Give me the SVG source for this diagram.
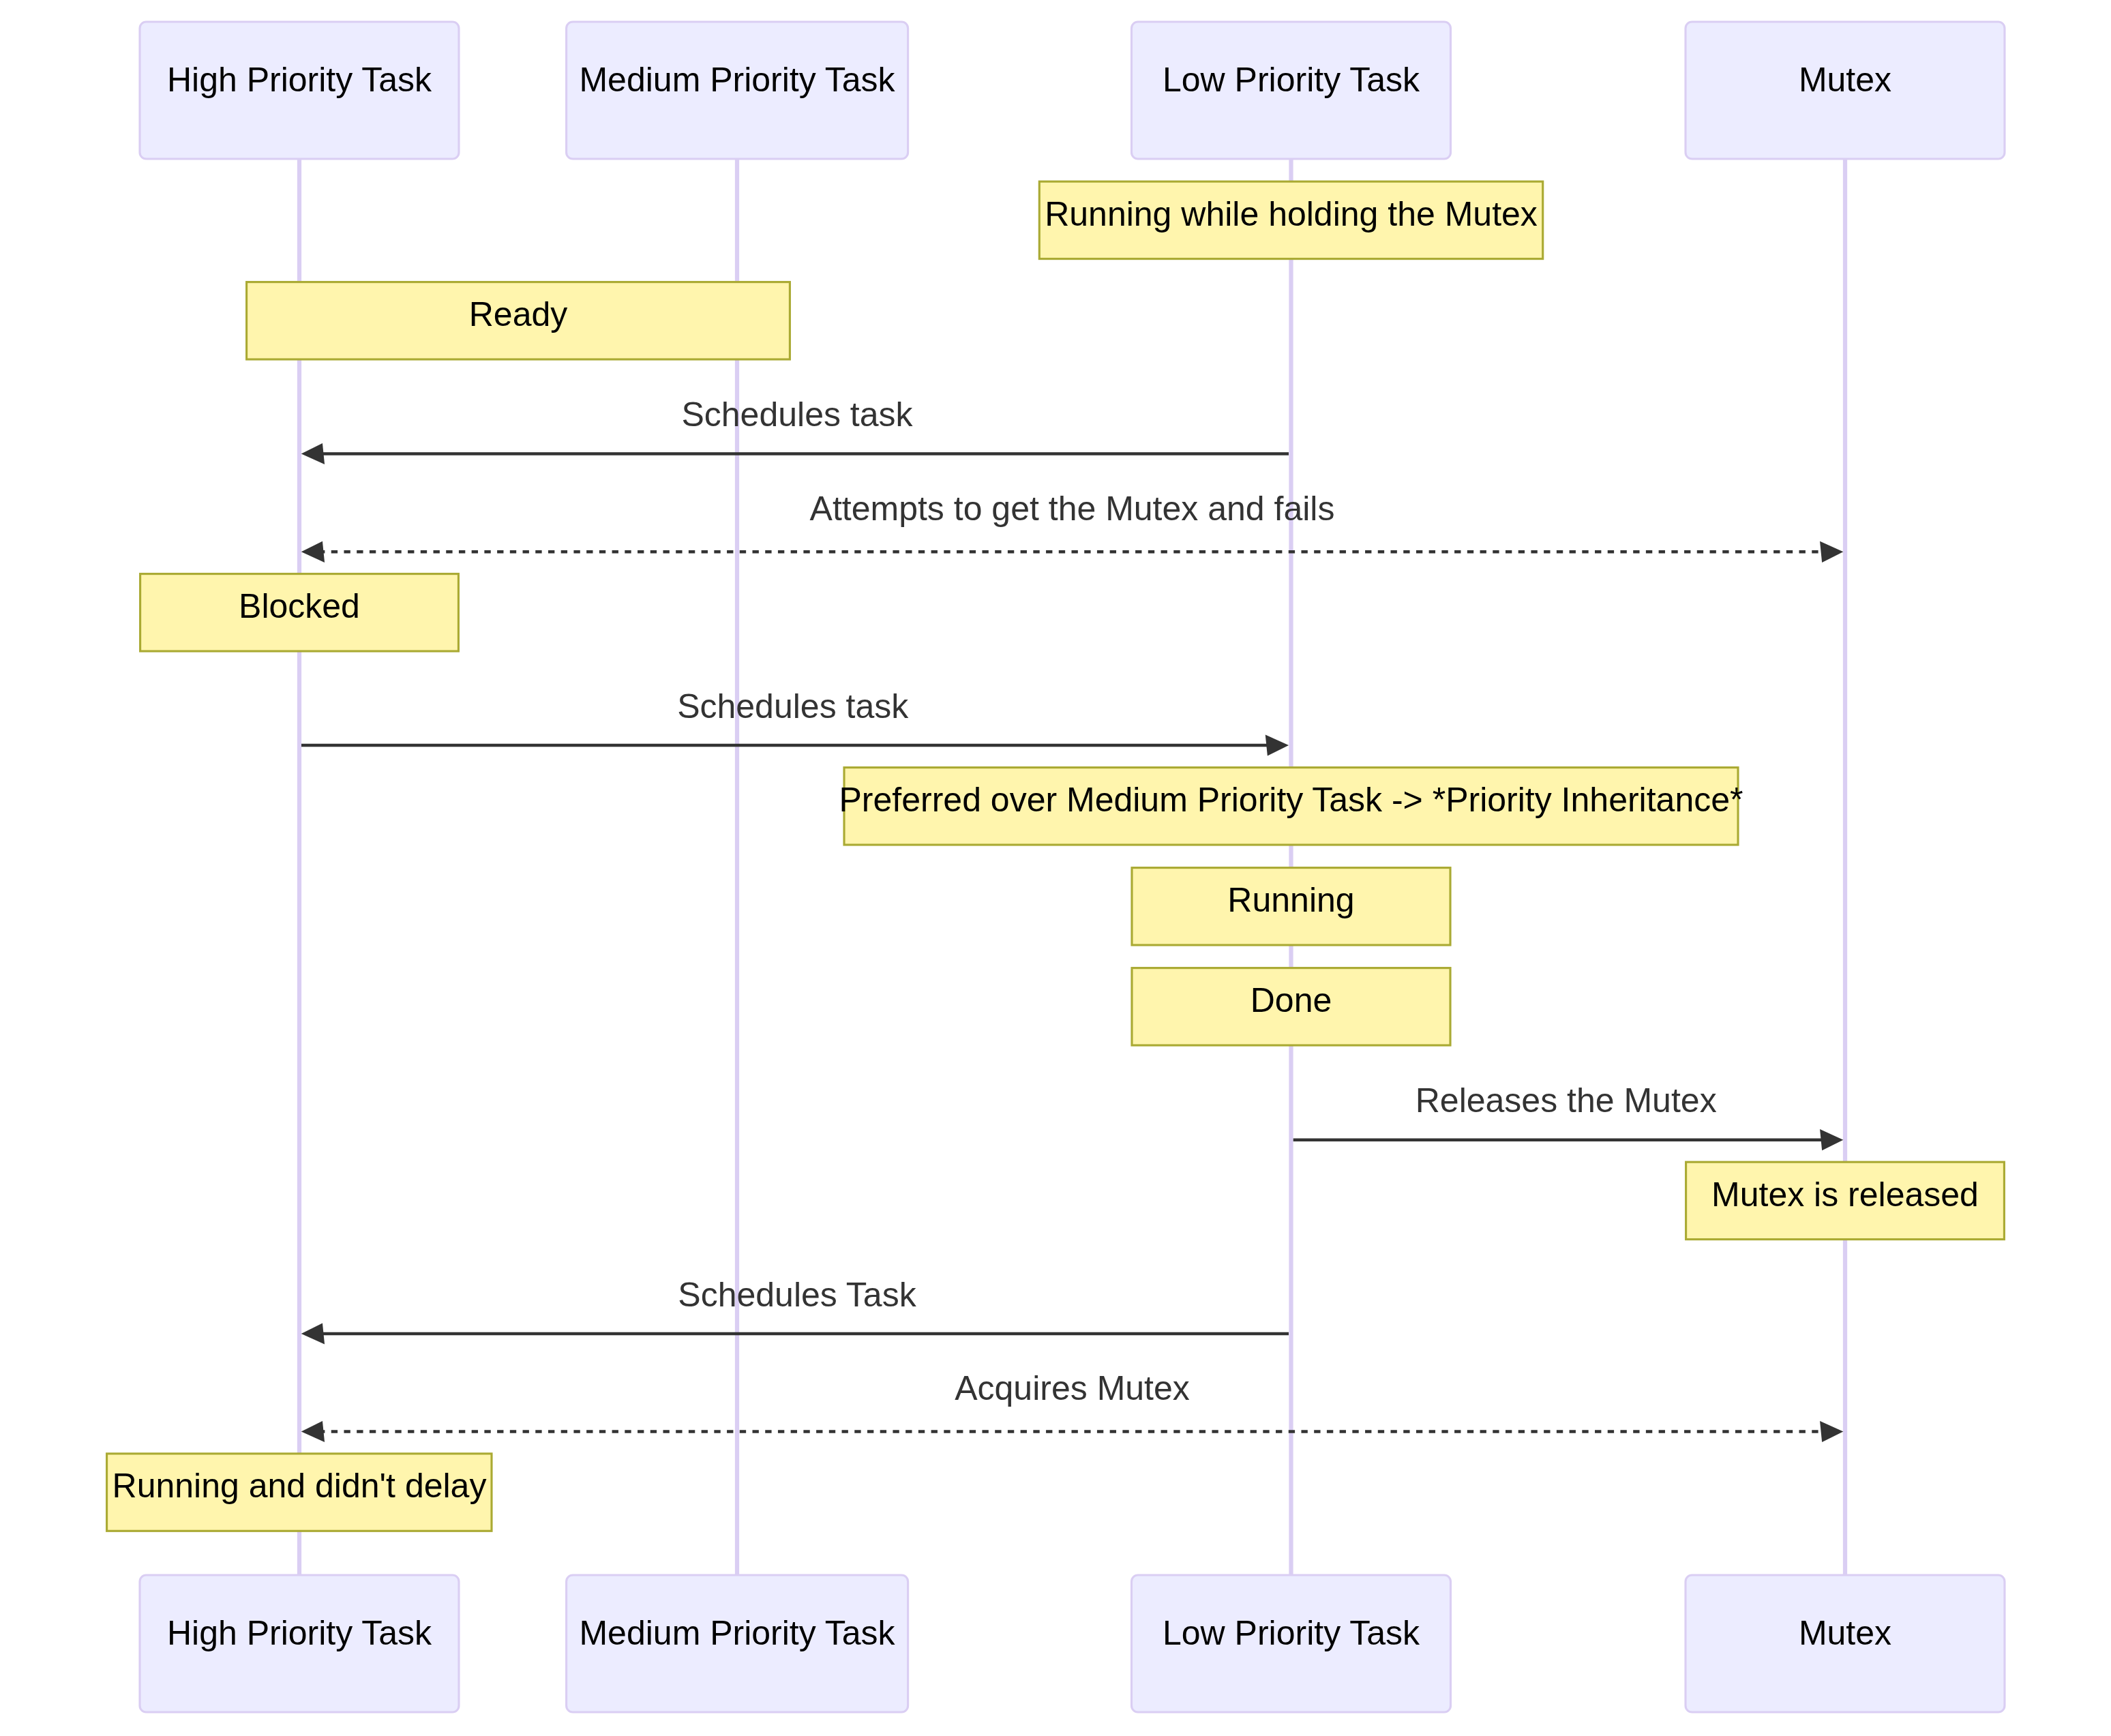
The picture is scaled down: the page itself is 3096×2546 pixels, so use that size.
<svg xmlns="http://www.w3.org/2000/svg" width="3096" height="2546" viewBox="0 0 3096 2546">
<style>
.bg{fill:#ffffff}
.actor rect{fill:#ECECFF;stroke:hsl(259.6,59.77%,87.9%);stroke-width:3.12}
.actor text{font-family:"Liberation Sans",Arial,sans-serif;font-size:50px;fill:#000;text-anchor:middle}
.lifeline{stroke:hsl(259.6,59.77%,87.9%);stroke-width:6.24}
.note rect{fill:#fff5ad;stroke:#aaaa33;stroke-width:3.12}
.note text{font-family:"Liberation Sans",Arial,sans-serif;font-size:50px;fill:#000;text-anchor:middle}
.msg{stroke:#333;stroke-width:4.5;fill:none}
.dotted{stroke-dasharray:9.36 9.36}
.msgtext{font-family:"Liberation Sans",Arial,sans-serif;font-size:50px;fill:#333;text-anchor:middle}
</style>
<defs>
<marker id="arrowhead" markerUnits="userSpaceOnUse" markerWidth="37.44" markerHeight="37.44" viewBox="0 0 12 12" refX="7.9" refY="5" orient="auto-start-reverse" overflow="visible">
<path d="M -1 0 L 10 5 L 0 10 z" fill="#333"/>
</marker>
</defs>
<rect class="bg" x="0" y="0" width="3096" height="2546"/>
<g id="lifelines">
<line class="lifeline" x1="439" y1="234" x2="439" y2="2310"/>
<line class="lifeline" x1="1081" y1="234" x2="1081" y2="2310"/>
<line class="lifeline" x1="1893.5" y1="234" x2="1893.5" y2="2310"/>
<line class="lifeline" x1="2706" y1="234" x2="2706" y2="2310"/>
</g>
<g id="actor-high-top" class="actor"><rect x="205" y="32" width="468" height="201" rx="9.4"/><text x="439" y="133.5">High Priority Task</text></g>
<g id="actor-medium-top" class="actor"><rect x="830.6" y="32" width="501" height="201" rx="9.4"/><text x="1081" y="133.5">Medium Priority Task</text></g>
<g id="actor-low-top" class="actor"><rect x="1659.5" y="32" width="468" height="201" rx="9.4"/><text x="1893.5" y="133.5">Low Priority Task</text></g>
<g id="actor-mutex-top" class="actor"><rect x="2472" y="32" width="468" height="201" rx="9.4"/><text x="2706" y="133.5">Mutex</text></g>
<g id="actor-high-bottom" class="actor"><rect x="205" y="2310" width="468" height="201" rx="9.4"/><text x="439" y="2411.5">High Priority Task</text></g>
<g id="actor-medium-bottom" class="actor"><rect x="830.6" y="2310" width="501" height="201" rx="9.4"/><text x="1081" y="2411.5">Medium Priority Task</text></g>
<g id="actor-low-bottom" class="actor"><rect x="1659.5" y="2310" width="468" height="201" rx="9.4"/><text x="1893.5" y="2411.5">Low Priority Task</text></g>
<g id="actor-mutex-bottom" class="actor"><rect x="2472" y="2310" width="468" height="201" rx="9.4"/><text x="2706" y="2411.5">Mutex</text></g>
<g id="note-holding" class="note"><rect x="1524.3" y="266.2" width="738.4" height="113.4"/><text x="1893.5" y="330.6">Running while holding the Mutex</text></g>
<g id="note-ready" class="note"><rect x="361.6" y="413.6" width="796.8" height="113.4"/><text x="760" y="478">Ready</text></g>
<g id="note-blocked" class="note"><rect x="205.6" y="841.6" width="466.8" height="113.4"/><text x="439" y="906">Blocked</text></g>
<g id="note-preferred" class="note"><rect x="1238" y="1125.6" width="1311" height="113.4"/><text x="1893.5" y="1190">Preferred over Medium Priority Task -&gt; *Priority Inheritance*</text></g>
<g id="note-running" class="note"><rect x="1660" y="1272.6" width="467" height="113.4"/><text x="1893.5" y="1337">Running</text></g>
<g id="note-done" class="note"><rect x="1660" y="1419.6" width="467" height="113.4"/><text x="1893.5" y="1484">Done</text></g>
<g id="note-released" class="note"><rect x="2472.6" y="1704.2" width="466.8" height="113.4"/><text x="2706" y="1768.6">Mutex is released</text></g>
<g id="note-nodelay" class="note"><rect x="156.6" y="2131.9" width="564.4" height="113.4"/><text x="439" y="2196.4">Running and didn't delay</text></g>
<g id="connectors">
<line class="msg" x1="1890" y1="665.5" x2="448.3" y2="665.5" marker-end="url(#arrowhead)"/>
<text class="msgtext" x="1169" y="625">Schedules task</text>
<line class="msg dotted" x1="448.3" y1="809.3" x2="2696.8" y2="809.3" marker-start="url(#arrowhead)" marker-end="url(#arrowhead)"/>
<text class="msgtext" x="1572.5" y="762.7">Attempts to get the Mutex and fails</text>
<line class="msg" x1="442" y1="1093" x2="1883.5" y2="1093" marker-end="url(#arrowhead)"/>
<text class="msgtext" x="1162.7" y="1052.7">Schedules task</text>
<line class="msg" x1="1896.7" y1="1671.7" x2="2696.8" y2="1671.7" marker-end="url(#arrowhead)"/>
<text class="msgtext" x="2296.7" y="1631">Releases the Mutex</text>
<line class="msg" x1="1890" y1="1956" x2="448.3" y2="1956" marker-end="url(#arrowhead)"/>
<text class="msgtext" x="1169" y="1915.5">Schedules Task</text>
<line class="msg dotted" x1="448.3" y1="2099.5" x2="2696.8" y2="2099.5" marker-start="url(#arrowhead)" marker-end="url(#arrowhead)"/>
<text class="msgtext" x="1572.5" y="2053.3">Acquires Mutex</text>
</g>
</svg>
